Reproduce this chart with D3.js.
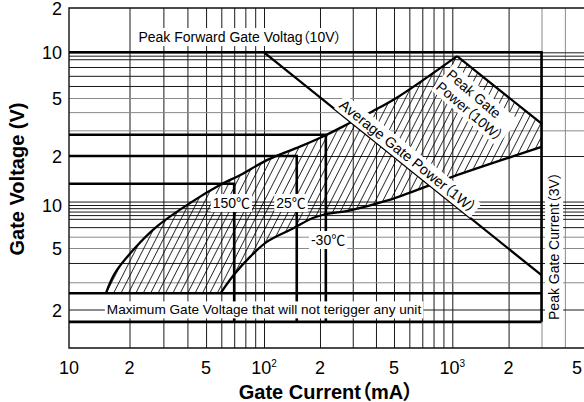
<!DOCTYPE html>
<html>
<head>
<meta charset="utf-8">
<script src="https://d3js.org/d3.v7.min.js"></script>
<style>
  body { margin: 0; background: #fff; }
  text { font-family: "Liberation Sans", Arial, "Noto Sans CJK JP", sans-serif; font-feature-settings: "palt"; fill: #000; }
</style>
</head>
<body>
<script>
// axis ticks / grid
const xTicks = [10, 20, 50, 100, 200, 500, 1000, 2000, 5000];
const xTickLabels = [["10"], ["2"], ["5"], ["10", "2"], ["2"], ["5"], ["10", "3"], ["2"], ["5"]];
const xGrid = [20, 30, 40, 50, 60, 70, 80, 90, 100, 200, 300, 400, 500, 600, 700, 800, 900, 1000, 2000, 3000, 4000];
const xGridLight = [3000, 4000];
const yTicks = [20, 10, 5, 2, 1, 0.5, 0.2];
const yTickLabels = ["2", "10", "5", "2", "10", "5", "2"];
const yGrid = [10, 9.5, 9, 8, 7, 6, 5, 4, 3, 2, 1.05, 1, 0.95, 0.9, 0.85, 0.8, 0.7, 0.6, 0.5, 0.4, 0.3, 0.2];
const yGridLight = [5, 4, 3, 0.6, 0.5, 0.3];

// gate characteristic boundaries (mA, V)
const upperCurve = [[15.3, 0.257], [16.9, 0.343], [20.9, 0.485], [27.7, 0.705], [41.4, 1.03], [59.3, 1.33],
  [75.4, 1.53], [105, 1.9], [156, 2.32], [216, 2.79], [287, 3.35], [380, 4.03], [527, 5.1], [1060, 9.43]];
const lowerCurve = [[59.8, 0.257], [69.6, 0.334], [85.1, 0.441], [104, 0.554], [143, 0.685], [183, 0.811],
  [211, 0.858], [287, 0.915], [467, 1.07], [1000, 1.49], [3000, 2.31]];

// trigger points per temperature
const temps = ["150℃", "25℃", "-30℃"];
const igt = [70, 150, 215];     // mA
const vgt = [1.35, 2, 2.8];     // V

const peakVgf = 10;    // V
const peakIg = 3000;   // mA
const peakPower = 10;  // W
const avgPower = 1;    // W
const vgdHigh = 0.255, vgdLow = 0.166;

const width = 584, height = 402;

// the printed grid is not perfectly logarithmic, so the scales are piecewise
const x = d3.scaleLog()
  .domain([10, 20, 100, 500, 1000, 5000])
  .range([69, 129.5, 264, 394, 452.3, 583]);
const y = d3.scaleLog()
  .domain([20, 10, 5, 2, 1, 0.5, 0.2, 0.112])
  .range([8, 52.3, 98, 156, 205, 248, 309.5, 348]);

const svg = d3.select("body").append("svg")
  .attr("width", width)
  .attr("height", height);

const defs = svg.append("defs");
defs.append("pattern")
  .attr("id", "hatch")
  .attr("patternUnits", "userSpaceOnUse")
  .attr("width", 20).attr("height", 6.6)
  .attr("patternTransform", "rotate(-63)")
  .append("line")
  .attr("x1", 0).attr("x2", 20).attr("y1", 3.3).attr("y2", 3.3)
  .attr("stroke", "#000").attr("stroke-width", 0.8);

// vertical grid
svg.append("g")
  .attr("transform", `translate(0,${y(0.112)})`)
  .call(d3.axisBottom(x).tickValues(xGrid).tickSize(-(y(0.112) - y(20))).tickFormat(""))
  .call(g => g.select(".domain").remove())
  .call(g => g.selectAll(".tick line")
    .attr("stroke", d => xGridLight.includes(d) ? "#8a8a8a" : "#1a1a1a")
    .attr("stroke-width", 1));

// horizontal grid
svg.append("g")
  .attr("transform", `translate(${x(10)},0)`)
  .call(d3.axisLeft(y).tickValues(yGrid).tickSize(-(width - x(10))).tickFormat(""))
  .call(g => g.select(".domain").remove())
  .call(g => g.selectAll(".tick line")
    .attr("stroke", d => yGridLight.includes(d) ? "#8a8a8a" : "#1a1a1a")
    .attr("stroke-width", 1));

// frame
svg.append("path")
  .attr("d", `M${width},${y(20)}H${x(10)}V${y(0.112)}H${width}`)
  .attr("fill", "none").attr("stroke", "#111").attr("stroke-width", 1.4);

// hatched region
const curve = d3.line().x(d => x(d[0])).y(d => y(d[1])).curve(d3.curveCatmullRom.alpha(0.5));
const regionD = curve(upperCurve)
  + `L${x(peakIg)},${y(peakPower * 1000 / peakIg)}`
  + curve(lowerCurve.slice().reverse()).replace(/^M/, "L") + "Z";
svg.append("path").attr("d", regionD).attr("fill", "url(#hatch)").attr("stroke", "none");

const thick = d3.line().x(d => x(d[0])).y(d => y(d[1]));
const heavy = svg.append("g").attr("fill", "none").attr("stroke", "#000").attr("stroke-width", 2.6);

heavy.append("path").attr("d", thick([[10, peakVgf], [peakIg, peakVgf], [peakIg, vgdLow]]));
heavy.append("path").attr("d", thick([[10, vgdHigh], [peakIg, vgdHigh]]));
heavy.append("path").attr("d", thick([[10, vgdLow], [peakIg, vgdLow]]));
temps.forEach((t, i) => {
  heavy.append("path").attr("d", thick([[10, vgt[i]], [igt[i], vgt[i]], [igt[i], vgdLow]]));
});

// boundary curves and power lines
const lines = svg.append("g").attr("fill", "none").attr("stroke", "#000").attr("stroke-width", 2.3);
lines.append("path").attr("d", curve(upperCurve));
lines.append("path").attr("d", curve(lowerCurve));
const peakPowerPts = [[upperCurve[upperCurve.length - 1][0], peakPower * 1000 / upperCurve[upperCurve.length - 1][0]],
  [peakIg, peakPower * 1000 / peakIg]];
const avgPowerPts = [[avgPower * 1000 / peakVgf, peakVgf], [peakIg, avgPower * 1000 / peakIg]];
lines.append("path").attr("d", thick(peakPowerPts) + `V${y(peakPower * 1000 / peakIg)}`);
lines.append("path").attr("d", thick(avgPowerPts));

function angleOf(pts) {
  return Math.atan2(y(pts[1][1]) - y(pts[0][1]), x(pts[1][0]) - x(pts[0][0])) * 180 / Math.PI;
}

// label with white box behind it
function boxed(px, py, angle, rows, size, anchor) {
  const g = svg.append("g").attr("transform", `translate(${px},${py}) rotate(${angle})`);
  const t = g.append("text")
    .attr("font-size", size)
    .attr("text-anchor", anchor);
  rows.forEach((r, i) => {
    t.append("tspan").attr("x", 0).attr("dy", i === 0 ? "0.36em" : "1.15em").text(r);
  });
  const b = t.node().getBBox();
  g.insert("rect", "text")
    .attr("x", b.x - 2).attr("y", b.y - 1)
    .attr("width", b.width + 4).attr("height", b.height + 2)
    .attr("fill", "#fff");
}

boxed(x(75), y(12.7), 0, ["Peak Forward Gate Voltag（10V）"], 14, "middle");
boxed(x(590), y(2.0), angleOf(avgPowerPts), ["Average Gate Power（1W）"], 14.5, "middle");
boxed(x(960), y(7.4), angleOf(peakPowerPts) + 2, ["Peak Gate", "Power（10W）"], 14, "start");
boxed(x(3500), y(0.516), -90, ["Peak Gate Current（3V）"], 14, "middle");
boxed(x(100), y(0.2), 0, ["Maximum Gate Voltage that will not terigger any unit"], 13.6, "middle");
const tempPos = [[67.7, 1.03], [139.7, 1.03], [221, 0.569]];
temps.forEach((t, i) => boxed(x(tempPos[i][0]), y(tempPos[i][1]), 0, [t], 14, "middle"));

// tick labels
svg.append("g").selectAll("text")
  .data(yTicks)
  .join("text")
  .attr("x", 62)
  .attr("y", d => y(d) + 7)
  .attr("text-anchor", "end")
  .attr("font-size", 18)
  .text((d, i) => yTickLabels[i]);

const xl = svg.append("g").selectAll("text")
  .data(xTicks)
  .join("text")
  .attr("x", d => Math.min(x(d), width - 7))
  .attr("y", 374)
  .attr("text-anchor", "middle")
  .attr("font-size", 18);
xl.each(function (d, i) {
  const t = d3.select(this);
  const parts = xTickLabels[i];
  t.append("tspan").text(parts[0]);
  if (parts.length > 1) t.append("tspan").attr("font-size", 10).attr("dy", -7).text(parts[1]);
});

// axis titles
svg.append("text")
  .attr("x", 326).attr("y", 399)
  .attr("text-anchor", "middle")
  .attr("font-size", 20).attr("font-weight", "bold")
  .text("Gate Current（mA）");
svg.append("text")
  .attr("transform", `translate(24,179) rotate(-90)`)
  .attr("text-anchor", "middle")
  .attr("font-size", 20).attr("font-weight", "bold")
  .text("Gate Voltage (V)");
</script>
</body>
</html>
